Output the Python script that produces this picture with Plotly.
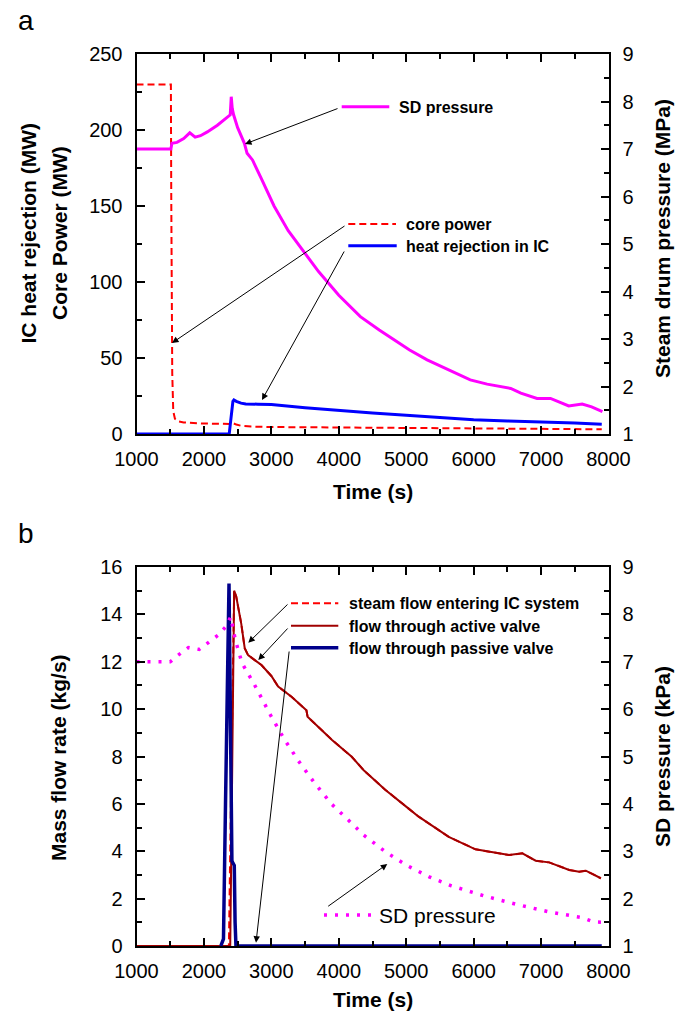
import plotly.graph_objects as go

# ---------------- data: panel a ----------------
sd_time_a = [1000, 1510, 1525, 1600, 1700, 1790, 1870, 1950, 2050, 2200, 2390, 2405, 2420, 2440,
             2500, 2600, 2640, 2720, 2850, 3040, 3250, 3460, 3700, 4000, 4320, 4600, 4820, 5050,
             5310, 5550, 5800, 5950, 6200, 6550, 6700, 6940, 7140, 7410, 7610, 7750, 7910]
sd_mpa_a = [7.0, 7.0, 7.12, 7.14, 7.22, 7.34, 7.25, 7.28, 7.36, 7.5, 7.72, 8.1, 7.85, 7.72,
            7.45, 7.12, 6.91, 6.77, 6.38, 5.8, 5.28, 4.87, 4.42, 3.92, 3.47, 3.19, 2.98, 2.77,
            2.56, 2.4, 2.24, 2.14, 2.05, 1.96, 1.86, 1.75, 1.75, 1.59, 1.63, 1.57, 1.47]

core_time_a = [1000, 1510, 1515, 1530, 1545, 1570, 1620, 1700, 1900, 2100, 2350, 2400, 2440,
               2480, 2560, 2700, 3000, 4000, 5000, 6000, 7000, 7900]
core_mw_a = [230, 230, 160, 40, 15, 10, 8.3, 7.6, 7.0, 6.7, 6.4, 6.6, 7.0,
             6.2, 5.3, 4.9, 4.6, 4.3, 4.0, 3.7, 3.4, 3.1]

ic_time_a = [1000, 2375, 2390, 2410, 2430, 2445, 2480, 2550, 2620, 2800, 3000, 3500, 4000,
             4500, 5000, 5500, 6000, 6500, 7000, 7500, 7900]
ic_mw_a = [0, 0, 6, 16, 21.5, 22.4, 21.5, 20.3, 19.8, 19.6, 19.4, 17.3, 15.4,
           13.8, 12.4, 10.8, 9.3, 8.6, 8.0, 7.2, 6.4]

# ---------------- data: panel b ----------------
sd_time_b = [1000, 1500, 1610, 1770, 1930, 2050, 2210, 2330, 2397, 2433, 2466, 2565, 2655,
             2744, 2830, 3000, 3190, 3400, 3630, 3890, 4220, 4370, 4690, 4860, 5010, 5340,
             5670, 6150, 6630, 7120, 7610, 7780, 7900]
sd_kpa_b = [7.0, 7.0, 7.13, 7.3, 7.26, 7.39, 7.56, 7.75, 7.95, 7.7, 7.46, 6.97, 6.76,
            6.53, 6.3, 5.84, 5.37, 4.91, 4.46, 4.0, 3.55, 3.34, 2.99, 2.83, 2.7, 2.46,
            2.27, 2.06, 1.88, 1.72, 1.6, 1.51, 1.5]

active_time_b = [1000, 2390, 2410, 2430, 2448, 2479, 2520, 2554, 2605, 2655, 2754, 2853, 3000,
                 3101, 3299, 3498, 3520, 3537, 3696, 3900, 4192, 4366, 4688, 4813, 5036, 5185,
                 5631, 6027, 6176, 6524, 6722, 6920, 7119, 7417, 7565, 7664, 7887]
active_kgs_b = [0, 0, 5, 12, 15.0, 14.75, 14.2, 13.6, 12.57, 12.28, 12.07, 11.86, 11.4,
                10.95, 10.52, 10.03, 9.95, 9.68, 9.26, 8.7, 7.99, 7.43, 6.6, 6.3, 5.8, 5.46,
                4.61, 4.08, 4.01, 3.84, 3.91, 3.6, 3.53, 3.21, 3.14, 3.18, 2.86]

steam_time_b = [1000, 2370, 2400, 2430, 2448, 2479, 2520, 2554, 2605, 2655, 2754, 2853, 3000,
                3101, 3299, 3498, 3520, 3537, 3696, 3900, 4192, 4366, 4688, 4813, 5036, 5185,
                5631, 6027, 6176, 6524, 6722, 6920, 7119, 7417, 7565, 7664, 7887]
steam_kgs_b = [0, 0, 6, 13, 15.0, 14.75, 14.2, 13.6, 12.57, 12.28, 12.07, 11.86, 11.4,
               10.95, 10.52, 10.03, 9.95, 9.68, 9.26, 8.7, 7.99, 7.43, 6.6, 6.3, 5.8, 5.46,
               4.61, 4.08, 4.01, 3.84, 3.91, 3.6, 3.53, 3.21, 3.14, 3.18, 2.86]

passive_time_b = [2250, 2290, 2320, 2350, 2372, 2395, 2415, 2430, 2450, 2462, 2475, 7900]
passive_kgs_b = [0, 0.3, 6, 13, 15.3, 9, 3.6, 3.5, 3.4, 1, 0, 0]

x_ticks = [1000, 2000, 3000, 4000, 5000, 6000, 7000, 8000]

# ---------------- layout helpers ----------------
W, H = 700, 1016
def P(px):
    return px / W
def Q(py):
    return 1 - py / H

XL, XR = 136.5, 608.5
TA, BA = 54, 434      # panel a top / bottom (px)
TB, BB = 567, 946     # panel b top / bottom (px)

FONT = "Liberation Sans, Arial, sans-serif"
RED = "#FF0000"
MAG = "#FF00FF"
BLUE = "#0000FF"
DRED = "#A00000"
NAVY = "#00008B"
DOT = "3px,8px"
DASH = "7px,4px"

fig = go.Figure()

fig.add_trace(go.Scatter(x=core_time_a, y=core_mw_a, mode="lines", xaxis="x", yaxis="y",
                         line=dict(color=RED, width=2, dash=DASH), showlegend=False))
fig.add_trace(go.Scatter(x=ic_time_a, y=ic_mw_a, mode="lines", xaxis="x", yaxis="y",
                         line=dict(color=BLUE, width=3), showlegend=False))
fig.add_trace(go.Scatter(x=sd_time_a, y=sd_mpa_a, mode="lines", xaxis="x", yaxis="y2",
                         line=dict(color=MAG, width=3), showlegend=False))

fig.add_trace(go.Scatter(x=sd_time_b, y=sd_kpa_b, mode="lines", xaxis="x2", yaxis="y4",
                         line=dict(color=MAG, width=3.5, dash=DOT), showlegend=False))
fig.add_trace(go.Scatter(x=steam_time_b, y=steam_kgs_b, mode="lines", xaxis="x2", yaxis="y3",
                         line=dict(color=RED, width=2, dash=DASH), showlegend=False))
fig.add_trace(go.Scatter(x=active_time_b, y=active_kgs_b, mode="lines", xaxis="x2", yaxis="y3",
                         line=dict(color=DRED, width=2), showlegend=False))
fig.add_trace(go.Scatter(x=passive_time_b, y=passive_kgs_b, mode="lines", xaxis="x2", yaxis="y3",
                         line=dict(color=NAVY, width=3.5), showlegend=False))

tickfont = dict(family=FONT, size=20, color="black")
common = dict(showgrid=False, zeroline=False, showline=True, linecolor="black", linewidth=2,
              ticks="inside", ticklen=8, tickwidth=1.5, tickcolor="black", tickfont=tickfont,
              automargin=False)

def xax(dom_anchor):
    return dict(common, range=[1000, 8000], tickvals=x_ticks, domain=[P(XL), P(XR)],
                anchor=dom_anchor, mirror="ticks", ticklabelstandoff=6,
                minor=dict(dtick=500, ticks="inside", ticklen=5, tickwidth=1.5, tickcolor="black"))

fig.update_layout(
    width=W, height=H, margin=dict(l=0, r=0, t=0, b=0, pad=0, autoexpand=False),
    autosize=False,
    paper_bgcolor="white", plot_bgcolor="white", showlegend=False,
    xaxis=xax("y"),
    yaxis=dict(common, range=[0, 250], dtick=50, domain=[Q(BA), Q(TA)], anchor="x",
               ticklabelstandoff=8,
               minor=dict(dtick=25, ticks="inside", ticklen=5, tickwidth=1.5, tickcolor="black")),
    yaxis2=dict(common, range=[1, 9], dtick=1, overlaying="y", side="right", anchor="x",
                ticklabelstandoff=8,
                minor=dict(dtick=0.5, ticks="inside", ticklen=5, tickwidth=1.5, tickcolor="black")),
    xaxis2=xax("y3"),
    yaxis3=dict(common, range=[0, 16], dtick=2, domain=[Q(BB), Q(TB)], anchor="x2",
                ticklabelstandoff=8,
                minor=dict(dtick=1, ticks="inside", ticklen=5, tickwidth=1.5, tickcolor="black")),
    yaxis4=dict(common, range=[1, 9], dtick=1, overlaying="y3", side="right", anchor="x2",
                ticklabelstandoff=8,
                minor=dict(dtick=0.5, ticks="inside", ticklen=5, tickwidth=1.5, tickcolor="black")),
)

ann = []
def text(px, py, s, size, bold=False, angle=0, xanchor="center"):
    ann.append(dict(x=P(px), y=Q(py), xref="paper", yref="paper", text=("<b>%s</b>" % s) if bold else s,
                    showarrow=False, textangle=angle, xanchor=xanchor, yanchor="middle",
                    font=dict(family=FONT, size=size, color="black")))

def arrow(tx, ty, hx, hy):
    ann.append(dict(x=P(hx), y=Q(hy), xref="paper", yref="paper", text="", showarrow=True,
                    ax=tx - hx, ay=ty - hy, axref="pixel", ayref="pixel",
                    arrowhead=2, arrowsize=1.3, arrowwidth=1, arrowcolor="black", standoff=0))

shapes = []
def seg(x0, x1, y, color, width, dash="solid"):
    shapes.append(dict(type="line", xref="paper", yref="paper", x0=P(x0), x1=P(x1), y0=Q(y), y1=Q(y),
                       line=dict(color=color, width=width, dash=dash)))

# panel letters
text(26, 21, "a", 28)
text(26, 533, "b", 28)

# axis titles
text(27.5, 233, "IC heat rejection (MW)", 21, bold=True, angle=-90)
text(59, 233, "Core Power (MW)", 21, bold=True, angle=-90)
text(662, 239, "Steam drum pressure (MPa)", 21, bold=True, angle=-90)
text(373, 491, "Time (s)", 21, bold=True)
text(58, 757, "Mass flow rate (kg/s)", 21, bold=True, angle=-90)
text(662, 757, "SD pressure (kPa)", 21, bold=True, angle=-90)
text(373, 999, "Time (s)", 21, bold=True)

# panel a legend-like labels
seg(341.7, 389.3, 106.7, MAG, 3)
text(397, 107, "SD pressure", 16, bold=True, xanchor="left")
arrow(339, 108, 245, 144)
seg(348.3, 396, 224, RED, 2, DASH)
text(404, 224, "core power", 16, bold=True, xanchor="left")
arrow(346, 225, 172, 343)
seg(348.3, 396.7, 245.7, BLUE, 3)
text(404, 246, "heat rejection in IC", 16, bold=True, xanchor="left")
arrow(345, 250, 262, 400)

# panel b legend-like labels
seg(291, 338.3, 603.3, RED, 2, DASH)
text(347, 603, "steam flow entering IC system", 16, bold=True, xanchor="left")
arrow(289, 603, 248.3, 642.7)
seg(291, 338.3, 625.7, DRED, 2)
text(347, 626, "flow through active valve", 16, bold=True, xanchor="left")
arrow(289, 627, 258.3, 660)
seg(291, 338.3, 647.7, NAVY, 3.5)
text(347, 648, "flow through passive valve", 16, bold=True, xanchor="left")
arrow(289.3, 650, 256, 942.7)
seg(324, 372, 915, MAG, 3.5, DOT)
text(377, 915, "SD pressure", 21, xanchor="left")
arrow(326.7, 907.3, 387.3, 864)

fig.update_layout(annotations=ann, shapes=shapes)
fig.write_html("out.html", config={"displayModeBar": False},
               post_script="document.body.style.margin='0px';document.body.style.overflow='hidden';")
